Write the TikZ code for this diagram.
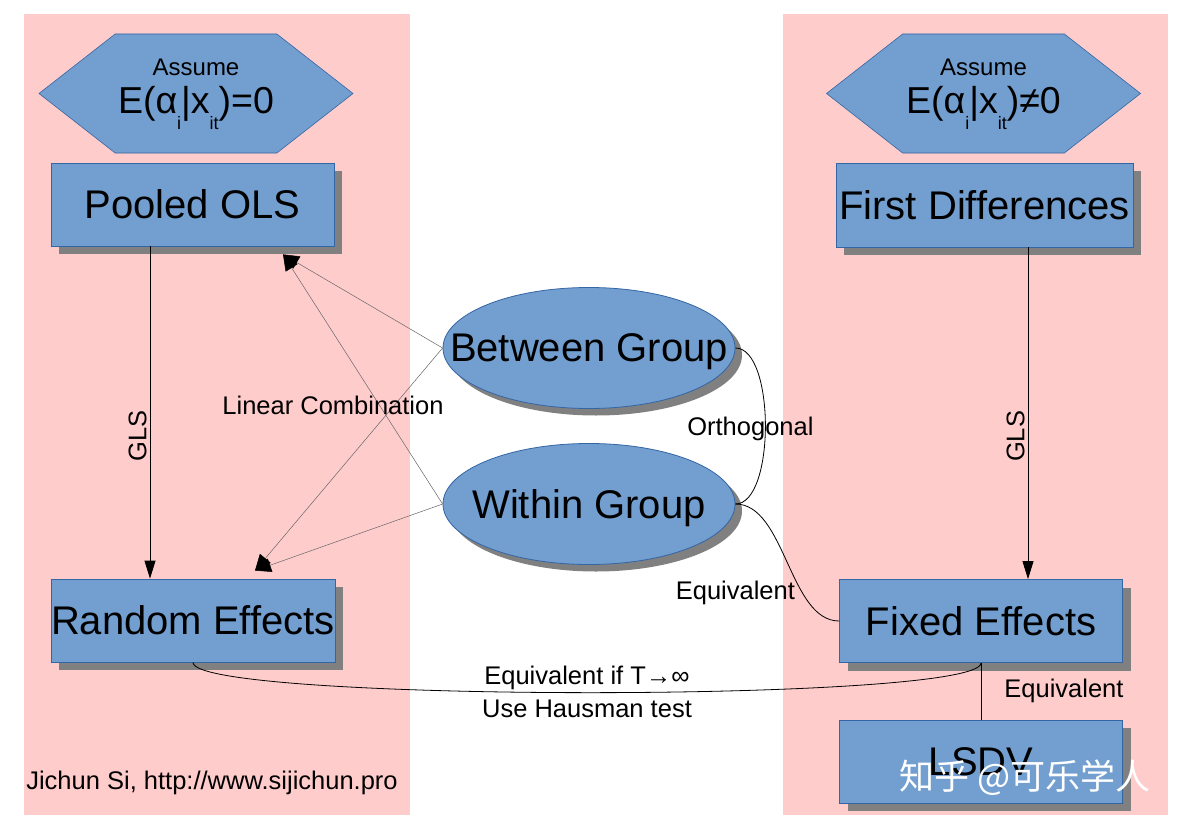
\documentclass[tikz,border=0pt]{standalone}
\usepackage{fontspec}
\setmainfont{Liberation Sans}
\newfontfamily\cjk{Noto Sans CJK SC}
\usetikzlibrary{arrows.meta}
\usetikzlibrary{calc}
\usetikzlibrary{shapes.geometric, shapes.symbols, shadows}

\definecolor{boxblue}{HTML}{729FCF}
\definecolor{boxline}{HTML}{3465A4}
\definecolor{panelpink}{HTML}{FFCCCC}
\definecolor{shadowgray}{HTML}{808080}

\newcommand{\lowidx}[1]{\raisebox{-0.42em}{\fontsize{18}{18}\selectfont #1}}

\begin{document}
\begin{tikzpicture}[
        x=1pt, y=-1pt,
        font=\fontsize{25.5}{30}\selectfont,
        panel/.style={fill=panelpink, draw=none},
        method/.style={rectangle, fill=boxblue, draw=boxline, line width=0.8pt,
            minimum width=283pt, minimum height=83pt, inner sep=0pt,
            font=\fontsize{40}{48}\selectfont,
            drop shadow={shadow xshift=8pt, shadow yshift=-8pt, fill=shadowgray, opacity=1}},
        group/.style={ellipse, fill=boxblue, draw=boxline, line width=0.8pt,
            minimum width=292pt, minimum height=121pt, inner sep=0pt,
            drop shadow={shadow xshift=7pt, shadow yshift=-7pt, fill=shadowgray, opacity=1}},
        grouptext/.style={font=\fontsize{40}{48}\selectfont, yshift=-4pt},
        hexbox/.style={shape=signal, signal to=east and west, signal pointer angle=76,
            fill=boxblue, draw=boxline, line width=0.6pt,
            minimum width=314pt, minimum height=119pt, inner sep=0pt},
        hextext/.style={align=center, inner sep=0pt},
        link/.style={line width=0.8pt, black},
        gls/.style={link, -{Triangle[length=18pt, width=11pt]}},
        combo/.style={line width=0.5pt, gray!80!black, -{Triangle[length=16pt, width=14pt, black]}}
    ]
        % --- Fondo y paneles ---
        \fill[white] (0,0) rectangle (1183,832);
        \useasboundingbox (0,0) rectangle (1183,832);
        \fill[panel] (24,14) rectangle (410,815);
        \fill[panel] (783,14) rectangle (1168,815);

        % --- Supuestos ---
        \node[hexbox] (HL) at (196,93.5) {};
        \node[hextext] (HLtext) at (196,94) {{\fontsize{24}{24}\selectfont Assume}\\[8pt]
            {\fontsize{37.5}{37.5}\selectfont E(α\lowidx{i}|x\lowidx{it})=0}};
        \node[hexbox] (HR) at (983.5,93.5) {};
        \node[hextext] (HRtext) at (983.5,94) {{\fontsize{24}{24}\selectfont Assume}\\[8pt]
            {\fontsize{37.5}{37.5}\selectfont E(α\lowidx{i}|x\lowidx{it})≠0}};

        % --- Estimadores ---
        \node[method] (PO) at (192.5,204.5) {Pooled OLS};
        \node[method, minimum width=297pt, minimum height=84pt] (FD) at (984.5,205) {First Differences};
        \node[method] (RE) at (193,620.5) {Random Effects};
        \node[method] (FE) at (981,621) {Fixed Effects};
        \node[method] (LS) at (981,761.5) {LSDV};

        \node[group, label={[grouptext]center:Between Group}] (BG) at (589,348) {};
        \node[group, label={[grouptext]center:Within Group}] (WG) at (589,504) {};

        % --- GLS ---
        \draw[gls] ([xshift=-42.5pt]PO.south) -- ([xshift=-43pt]RE.north)
            node[pos=0.57, rotate=90, anchor=south, inner sep=3pt] {GLS};
        \draw[gls] ([xshift=43.5pt]FD.south) -- ([xshift=47pt]FE.north)
            node[pos=0.57, rotate=90, anchor=south, inner sep=3pt] {GLS};

        % --- Combinación lineal ---
        \coordinate (POtip) at ($(PO.south)+(90.5,8)$);
        \coordinate (REtip) at ($(RE.north)+(62,-8)$);
        \draw[combo] (BG.west) -- (POtip);
        \draw[combo] (WG.west) -- (POtip);
        \draw[combo] (BG.west) -- (REtip);
        \draw[combo] (WG.west) -- (REtip);
        \node (LC) at (333,405) {Linear Combination};

        % --- Relaciones ---
        \draw[link] (BG.east) .. controls +(40,0) and +(40,0) .. (WG.east)
            node[midway, xshift=-15pt, yshift=-3pt] {Orthogonal};
        \draw[link] (WG.east) .. controls +(50,0) and +(-50,0) .. (FE.west)
            node[pos=0.68, left, inner sep=2pt, xshift=-5pt] {Equivalent};
        \draw[link] (RE.south) .. controls +(0,40) and +(0,40) .. (FE.south)
            node[midway, above, inner sep=2pt] {Equivalent if T→∞}
            node[midway, below, inner sep=7pt] {Use Hausman test};
        \draw[link] (FE.south) -- (LS.north)
            node[midway, right=21pt, inner sep=2pt] {Equivalent};

        % --- Textos ---
        \node (credit) at (212,783) {Jichun Si, http://www.sijichun.pro};
        \node[text=white, font=\cjk\fontsize{35}{40}\selectfont] (mark) at (1025,778) {知乎 @可乐学人};
    \end{tikzpicture}
\end{document}
